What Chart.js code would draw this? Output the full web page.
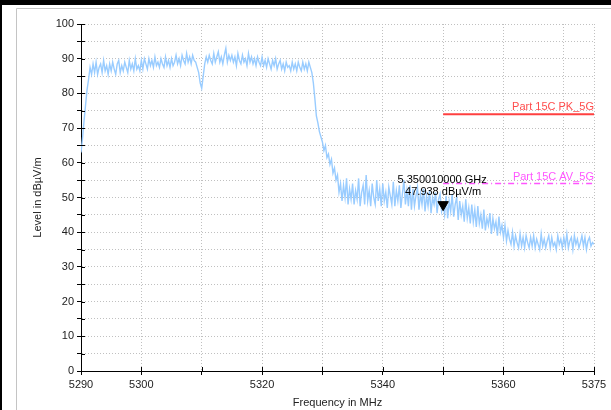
<!DOCTYPE html>
<html>
<head>
<meta charset="utf-8">
<script src="https://cdn.jsdelivr.net/npm/chart.js@4.4.0/dist/chart.umd.min.js"></script>
<style>
html, body { margin: 0; padding: 0; background: #fff; }
#wrap { width: 611px; height: 410px; }
</style>
</head>
<body>
<div id="wrap"><canvas id="grafico" width="611" height="410"></canvas></div>
<script>
// sweep: 5290 MHz .. 5375 MHz, one reading every 0.25 MHz
const freqStart = 5290;
const freqStep = 0.25;
const levels = [
    63, 67, 72, 76.5, 81, 84, 87.5, 85.5, 88.5, 86, 89, 85.5, 87.5, 88.5, 86, 89.5, 86.5, 88, 85.5, 88.5,
    86.5, 89, 87, 85.5, 88.5, 89.5, 86, 88, 86.5, 89, 87.5, 86, 89.5, 87, 88.5, 86.5, 90, 87, 88, 86.5,
    89.5, 87, 90, 88.5, 87, 90, 88, 89.5, 87.5, 90.5, 88, 89, 87.5, 90, 88.5, 87.5, 90.5, 88, 89.5, 87.5,
    90, 88, 89, 91, 88.5, 90, 88, 91, 89.5, 88.5, 91.5, 89, 90.5, 88.5, 91, 89.5, 89, 87.5, 86, 83,
    81.5, 85, 88.5, 90.5, 89, 91, 89.5, 88.5, 91.5, 89, 90.5, 92, 89, 90.5, 88.5, 91, 93, 89, 91, 89.5,
    91, 89, 90.5, 88, 91.5, 89.5, 88.5, 91, 89, 90, 88, 91.5, 89, 90.5, 88.5, 90, 88, 90.5, 89, 88,
    90.5, 88, 89.5, 87.5, 90, 88.5, 87, 89.5, 88, 90, 87, 88.5, 89.5, 87, 88.5, 86.5, 89, 87.5, 88, 86.5,
    89, 87, 88.5, 86.5, 89, 87.5, 86.5, 89, 87, 88.5, 86.5, 89, 87.5, 86, 83, 78.5, 73.5, 71.5, 69, 67.5,
    66, 63.5, 65, 61.5, 62.5, 59.5, 61, 57, 58.5, 55, 56.5, 51.5, 54, 49, 53.5, 50, 55.5, 48, 52.5, 49.5,
    54, 48, 52, 49.5, 55.5, 47.5, 51.5, 53.5, 48, 56.5, 49, 52, 47.5, 54, 50, 48, 55, 49, 52.5, 47.5,
    54, 49, 51.5, 47, 53, 50.5, 48, 54.5, 47.5, 52, 49, 53.5, 47, 51, 55, 48, 52, 47.5, 53.5, 46.5,
    52.5, 47.5, 50.5, 53, 46.5, 51, 48, 52.5, 46, 50.5, 47.5, 52, 45.5, 50, 48, 51.5, 45.5, 49.5, 51, 46,
    48, 45, 50.5, 44, 49, 46, 51, 44.5, 48, 50, 43.5, 49, 45, 47.5, 43, 49.5, 44, 47, 42.5, 48,
    43, 46.5, 41.5, 47.5, 42.5, 45, 41, 46.5, 40.5, 44, 42, 45.5, 39.5, 44, 41, 43, 39, 44.5, 40, 42,
    38.5, 42, 37.5, 40.5, 38, 36.5, 40, 36, 39, 37, 35.5, 39.5, 36, 38.5, 35.5, 39, 37, 35.5, 38.5, 36,
    39, 35.5, 38, 36.5, 35, 39.5, 36, 38, 35.5, 37.5, 39, 35.5, 38.5, 36, 37, 35, 39, 36.5, 38, 35.5,
    38.5, 36, 39.5, 35.5, 37.5, 38.5, 35, 39, 36.5, 38, 35.5, 37, 39, 36, 38.5, 35, 37.5, 38.5, 36, 37, 36.5
];

const xTicks = [5290, 5300, 5310, 5320, 5330, 5340, 5350, 5360, 5370, 5375];
const xLabeled = [5290, 5300, 5320, 5340, 5360, 5375];

const limitNames = ["Part 15C PK_5G", "Part 15C AV_5G"];
const limitLevels = [74, 54];
const limitFrom = [5350, 5350];
const limitTo = [5375, 5375];

const markerFreq = 5350;
const markerLevel = 47.938;
const markerText = ["5.350010000 GHz", "47.938 dBµV/m"];

const FONT = "'Liberation Sans', Arial, sans-serif";

const trace = levels.map((v, i) => ({ x: freqStart + i * freqStep, y: v }));
const limitLine = (k) => [{ x: limitFrom[k], y: limitLevels[k] }, { x: limitTo[k], y: limitLevels[k] }];

// frame round the chart, like the screenshot
const marco = {
    id: "marco",
    beforeDraw(chart) {
        const ctx = chart.ctx;
        ctx.save();
        ctx.fillStyle = "#fff";
        ctx.fillRect(0, 0, chart.width, chart.height);
        ctx.fillStyle = "#000";
        ctx.fillRect(0, 0, chart.width, 5);
        ctx.fillRect(0, 0, 2, chart.height);
        ctx.strokeStyle = "#c4c4c4";
        ctx.lineWidth = 1;
        ctx.beginPath();
        ctx.moveTo(16.5, chart.height);
        ctx.lineTo(16.5, 8.5);
        ctx.lineTo(chart.width, 8.5);
        ctx.stroke();
        ctx.restore();
    }
};

// tick marks cross the axis, labels for limits and marker
const extras = {
    id: "extras",
    afterDatasetsDraw(chart) {
        const ctx = chart.ctx;
        const xs = chart.scales.x;
        const ys = chart.scales.y;
        ctx.save();
        ctx.strokeStyle = "#000";
        ctx.lineWidth = 1;
        ctx.beginPath();
        xs.ticks.forEach((t) => {
            const px = Math.round(xs.getPixelForValue(t.value)) + 0.5;
            ctx.moveTo(px, ys.bottom);
            ctx.lineTo(px, ys.bottom - 4);
        });
        ys.ticks.forEach((t) => {
            const py = Math.round(ys.getPixelForValue(t.value)) + 0.5;
            ctx.moveTo(xs.left, py);
            ctx.lineTo(xs.left + 4, py);
        });
        ctx.stroke();

        ctx.font = "11px " + FONT;
        ctx.textAlign = "right";
        ctx.textBaseline = "alphabetic";
        const colores = ["#ff4d4d", "#ff55ff"];
        limitNames.forEach((nombre, k) => {
            ctx.fillStyle = colores[k];
            ctx.fillText(nombre, xs.getPixelForValue(limitTo[k]), ys.getPixelForValue(limitLevels[k]) - 4);
        });

        ctx.fillStyle = "#000";
        ctx.textAlign = "center";
        const mx = xs.getPixelForValue(markerFreq);
        const my = ys.getPixelForValue(markerLevel);
        ctx.fillText(markerText[0], mx - 1, my - 22);
        ctx.fillText(markerText[1], mx, my - 10);
        ctx.restore();
    }
};

new Chart(document.getElementById("grafico").getContext("2d"), {
    type: "line",
    data: {
        datasets: [
            {
                label: "marker",
                data: [{ x: markerFreq, y: markerLevel }],
                showLine: false,
                pointStyle: "triangle",
                rotation: 180,
                pointRadius: 6,
                pointBackgroundColor: "#000",
                pointBorderColor: "#000",
                pointBorderWidth: 1
            },
            {
                label: limitNames[0],
                data: limitLine(0),
                borderColor: "#ff4040",
                borderWidth: 2,
                pointRadius: 0
            },
            {
                label: limitNames[1],
                data: limitLine(1),
                borderColor: "#ff55ff",
                borderWidth: 1.5,
                borderDash: [6, 3, 1, 3],
                pointRadius: 0
            },
            {
                label: "Level",
                data: trace,
                borderColor: "#99ccff",
                borderWidth: 1.4,
                pointRadius: 0,
                tension: 0
            }
        ]
    },
    options: {
        responsive: false,
        animation: false,
        events: [],
        layout: { padding: { left: 20, right: 17, top: 24, bottom: 0 } },
        plugins: {
            legend: { display: false },
            tooltip: { enabled: false }
        },
        scales: {
            x: {
                type: "linear",
                min: 5290,
                max: 5375,
                afterBuildTicks(scale) {
                    scale.ticks = xTicks.map((v) => ({ value: v }));
                },
                afterFit(scale) { scale.height = 39; },
                ticks: {
                    autoSkip: false,
                    maxRotation: 0,
                    padding: 3,
                    color: "#222",
                    font: { family: FONT, size: 11 },
                    callback: (v) => (xLabeled.includes(v) ? String(v) : "")
                },
                grid: {
                    color: "#c0c0c0",
                    tickColor: "#000",
                    tickLength: 4,
                    lineWidth: 1
                },
                border: { display: true, color: "#000", width: 1, dash: [1, 2] },
                title: {
                    display: true,
                    text: "Frequency in MHz",
                    color: "#222",
                    font: { family: FONT, size: 11 },
                    padding: { top: 0, bottom: 0 }
                }
            },
            y: {
                min: 0,
                max: 100,
                afterFit(scale) { scale.width = 61; },
                ticks: {
                    stepSize: 5,
                    padding: 3,
                    color: "#222",
                    font: { family: FONT, size: 11 },
                    callback: (v) => (v % 10 === 0 ? String(v) : "")
                },
                grid: {
                    color: "#c0c0c0",
                    tickColor: "#000",
                    tickLength: 4,
                    lineWidth: 1
                },
                border: { display: true, color: "#000", width: 1, dash: [1, 2] },
                title: {
                    display: true,
                    text: "Level in dBµV/m",
                    color: "#222",
                    font: { family: FONT, size: 11 },
                    padding: { top: 11, bottom: 0 }
                }
            }
        }
    },
    plugins: [marco, extras]
});
</script>
</body>
</html>
